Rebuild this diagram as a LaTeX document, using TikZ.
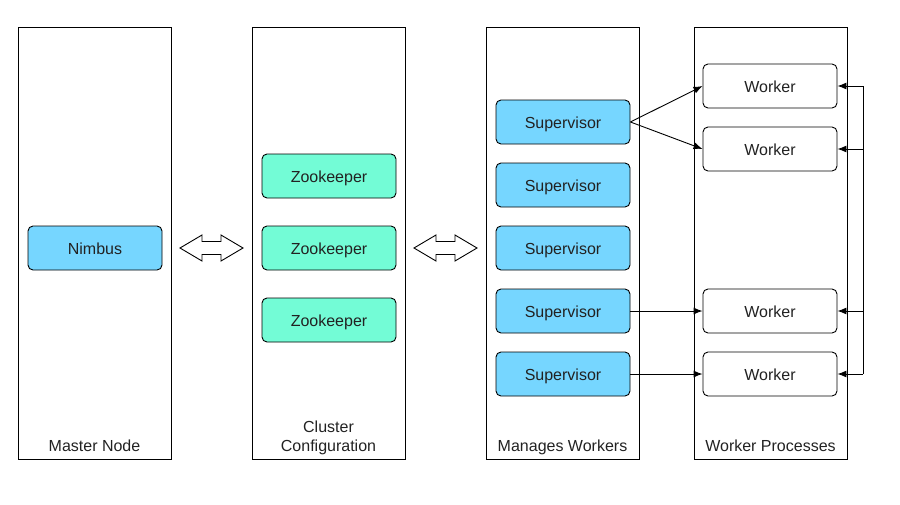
\documentclass[tikz,border=0pt]{standalone}
\usepackage{fontspec}
\setmainfont{Liberation Sans}
\usetikzlibrary{arrows.meta}
\definecolor{sky}{HTML}{76D6FF}
\definecolor{seafoam}{HTML}{73FCD6}
\definecolor{txt}{HTML}{222222}

\begin{document}
\begin{tikzpicture}[x=1pt,y=-1pt,line width=0.9pt,
    font=\fontsize{16}{19}\selectfont,
    box/.style={draw,rounded corners=5pt,minimum width=134pt,minimum height=44pt,inner sep=0pt,
        text height=12pt,text depth=0pt,text=txt},
    sup/.style={box,fill=sky},
    zoo/.style={box,fill=seafoam},
    wrk/.style={box,fill=white},
    lbl/.style={anchor=base,align=center,text=txt,inner sep=0pt},
    arr/.style={-{Latex[length=9pt,width=7pt]}}]
                    \useasboundingbox (0,0) rectangle (900,504);

                    % the four columns
                    \draw (18,27) rectangle (171,459);
                    \draw (252,27) rectangle (405,459);
                    \draw (486,27) rectangle (639,459);
                    \draw (694,27) rectangle (847,459);

                    \node[lbl] (lmaster) at (94.5,451) {Master Node};
                    \node[lbl] (lcluster) at (328.5,451) {Cluster\\Configuration};
                    \node[lbl] (lmanage) at (562.5,451) {Manages Workers};
                    \node[lbl] (lworker) at (770.5,451) {Worker Processes};

                    \node[sup] (nimbus) at (95,248) {Nimbus};

                    \node[zoo] (zk1) at (329,176) {Zookeeper};
                    \node[zoo] (zk2) at (329,248) {Zookeeper};
                    \node[zoo] (zk3) at (329,320) {Zookeeper};

                    \node[sup] (s1) at (563,122) {Supervisor};
                    \node[sup] (s2) at (563,185) {Supervisor};
                    \node[sup] (s3) at (563,248) {Supervisor};
                    \node[sup] (s4) at (563,311) {Supervisor};
                    \node[sup] (s5) at (563,374) {Supervisor};

                    \node[wrk] (w1) at (770,86) {Worker};
                    \node[wrk] (w2) at (770,149) {Worker};
                    \node[wrk] (w3) at (770,311) {Worker};
                    \node[wrk] (w4) at (770,374) {Worker};

                    % hollow double arrows between columns
                    \foreach \x in {180,414}
                        \draw[fill=white] (\x,248) -- (\x+22,235) -- (\x+22,241.5) -- (\x+41,241.5) -- (\x+41,235)
                            -- (\x+63,248) -- (\x+41,261) -- (\x+41,254.5) -- (\x+22,254.5) -- (\x+22,261) -- cycle;

                    \draw[arr] (s1.east) -- (w1.west);
                    \draw[arr] (s1.east) -- (w2.west);
                    \draw[arr] (s4.east) -- (w3.west);
                    \draw[arr] (s5.east) -- (w4.west);

                    % feedback line on the right
                    \coordinate (bus) at (863,0);
                    \draw (w1.east -| bus) -- (w4.east -| bus);
                    \foreach \w in {w1,w2,w3,w4}
                        \draw[arr] (\w.east -| bus) -- (\w.east);

                \end{tikzpicture}
\end{document}
